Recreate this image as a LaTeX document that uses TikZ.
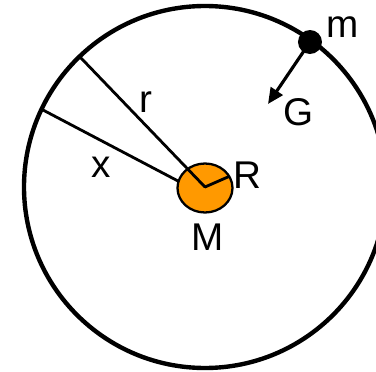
\documentclass[tikz,border=0pt]{standalone}
\usepackage{fontspec}
\setmainfont{Liberation Sans}
\usepackage{tkz-euclide}
\usetikzlibrary{arrows.meta,calc}
\definecolor{PlanetClr}{RGB}{255,153,0}

\begin{document}
\begin{tikzpicture}[every node/.style={font=\fontsize{22}{26}\selectfont}]
\useasboundingbox (-4.10,-3.70) rectangle (3.42,3.74);
\tkzSetUpLine[line width=1.6pt,color=black]

\tkzDefPoints{0/0/O,3.62/0/X}

\tkzDefPoint(-2.48,2.58){A}
\tkzDefPoint(-3.24,1.54){B}
\tkzDefPoint(-0.54,0.12){E}
\tkzDefPoint(0.48,0.21){C}
\tkzDefPoint(2.10,2.90){P}
\tkzDefPoint(1.26,1.66){F}

\tkzDrawCircle[color=black,line width=2.5pt](O,X)

\draw[line width=1.3pt,fill=PlanetClr] (0,-0.02) ellipse (0.55 and 0.49);

\tkzDrawSegments[line width=1.6pt,color=black](O,A B,E O,C)

\draw[line width=1.8pt,-{Triangle[length=9pt,width=8pt]}] (P) -- (F);
\fill (P) circle (0.24);

\node (lm) at (2.76,3.20) {m};
\node (lG) at (1.88,1.50) {G};
\node (lr) at (-1.18,1.70) {r};
\node (lx) at (-2.08,0.40) {x};
\node (lR) at (0.84,0.24) {R};
\node (lM) at (0.06,-1.00) {M};

\end{tikzpicture}
\end{document}
